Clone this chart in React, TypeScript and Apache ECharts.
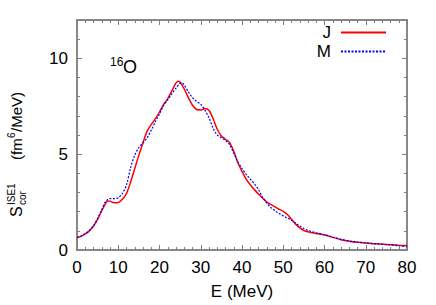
import React, { useEffect, useRef } from "react";
import * as echarts from "echarts";

const energyJ = [0, 1, 2, 3, 4, 5, 6, 7, 7.5, 8, 9, 10, 11, 12, 13, 14, 15, 16, 17, 18, 19, 20, 21, 22, 23, 24, 24.6, 25, 26, 27, 28, 29, 30, 31, 32, 33, 34, 35, 36, 37, 38, 39, 40, 41, 42, 43, 44, 45, 46, 47, 48, 49, 50, 51, 52, 53, 54, 55, 56, 58, 60, 62, 64, 66, 68, 70, 72, 75, 78, 80];
const valuesJ = [0.65, 0.72, 0.84, 1.0, 1.25, 1.6, 2.05, 2.45, 2.56, 2.55, 2.47, 2.48, 2.65, 2.95, 3.55, 4.25, 4.95, 5.6, 6.2, 6.55, 6.85, 7.2, 7.6, 7.9, 8.3, 8.72, 8.8, 8.75, 8.4, 7.95, 7.55, 7.33, 7.3, 7.38, 7.28, 6.85, 6.3, 5.95, 5.78, 5.6, 5.15, 4.55, 4.1, 3.7, 3.4, 3.15, 2.92, 2.7, 2.5, 2.38, 2.25, 2.12, 2.02, 1.85, 1.6, 1.35, 1.15, 1.02, 0.95, 0.86, 0.78, 0.66, 0.54, 0.46, 0.4, 0.36, 0.33, 0.29, 0.25, 0.23];

const energyM = [0, 1, 2, 3, 4, 5, 6, 7, 8, 9, 10, 11, 12, 13, 14, 15, 16, 17, 18, 19, 20, 21, 22, 23, 24, 25, 25.5, 26, 27, 28, 29, 30, 31, 32, 33, 34, 35, 36, 37, 38, 39, 40, 41, 42, 43, 44, 45, 46, 47, 48, 49, 50, 51, 52, 53, 54, 55, 56, 58, 60, 62, 64, 66, 68, 70, 72, 75, 78, 80];
const valuesM = [0.65, 0.72, 0.85, 1.02, 1.27, 1.65, 2.1, 2.55, 2.68, 2.68, 2.72, 2.95, 3.4, 4.3, 4.95, 5.35, 5.6, 5.85, 6.25, 6.7, 7.1, 7.55, 7.85, 8.15, 8.45, 8.7, 8.72, 8.6, 8.25, 7.95, 7.75, 7.6, 7.3, 6.9, 6.35, 6.0, 5.85, 5.72, 5.5, 5.05, 4.6, 4.25, 3.95, 3.7, 3.45, 3.15, 2.75, 2.45, 2.22, 2.05, 1.9, 1.78, 1.67, 1.55, 1.4, 1.25, 1.12, 1.02, 0.9, 0.8, 0.68, 0.56, 0.47, 0.41, 0.37, 0.33, 0.28, 0.22, 0.19];

const seriesNames = ["J", "M"];
const xName = "E (MeV)";

const FONT = "'Liberation Sans', Arial, Helvetica, sans-serif";
const FRAME = "#808080";

export default function App() {
  const ref = useRef<HTMLDivElement>(null);
  useEffect(() => {
    const chart = echarts.init(ref.current!, null, { renderer: "svg" });
    const axisCommon = (pos: string, show: boolean) => ({
      position: pos,
      axisLine: { show: true, onZero: false, lineStyle: { color: FRAME, width: 1.5 } },
      axisTick: { show: true, inside: true, length: 5, lineStyle: { color: FRAME, width: 1 } },
      minorTick: { show: true, splitNumber: 5, length: 3, lineStyle: { color: FRAME, width: 1 } },
      splitLine: { show: false },
      axisLabel: { show, color: "#000", fontSize: 17, fontFamily: FONT, margin: 9, showMaxLabel: pos === "bottom" },
    });
    const mainText = (t: string, x: number, fs: number, dy: number) => ({
      type: "text",
      x,
      y: dy,
      style: { text: t, fontSize: fs, fontFamily: FONT, fill: "#000", verticalAlign: "middle", align: "left" },
    });
    chart.setOption({
      animation: false,
      grid: { left: 77, right: 29, top: 20, bottom: 51, show: true, borderColor: FRAME, borderWidth: 1.5, backgroundColor: "transparent" },
      legend: {
        orient: "vertical",
        align: "right",
        right: 49,
        top: 24,
        padding: 0,
        itemWidth: 45,
        itemHeight: 14,
        itemGap: 2,
        itemStyle: { opacity: 0 },
        textStyle: { fontSize: 17, fontFamily: FONT, color: "#000", padding: [0, 5, 0, 0] },
        data: seriesNames,
      },
      xAxis: [
        {
          type: "value",
          min: 0,
          max: 80,
          interval: 10,
          name: xName,
          nameLocation: "middle",
          nameGap: 33,
          nameTextStyle: { fontSize: 17, fontFamily: FONT, color: "#000" },
          ...axisCommon("bottom", true),
        },
        { type: "value", min: 0, max: 80, interval: 10, ...axisCommon("top", false) },
      ],
      yAxis: [
        { type: "value", min: 0, max: 12, interval: 5, ...axisCommon("left", true) },
        { type: "value", min: 0, max: 12, interval: 5, ...axisCommon("right", false) },
      ],
      series: [
        {
          name: seriesNames[0],
          type: "line",
          data: energyJ.map((e, i) => [e, valuesJ[i]]),
          smooth: 0.3,
          symbol: "none",
          lineStyle: { color: "#ff0000", width: 1.5 },
          itemStyle: { color: "#ff0000" },
          z: 3,
        },
        {
          name: seriesNames[1],
          type: "line",
          data: energyM.map((e, i) => [e, valuesM[i]]),
          smooth: 0.3,
          symbol: "none",
          lineStyle: { color: "#0000ff", width: 1.2, type: [2, 1.5] },
          itemStyle: { color: "#0000ff" },
          z: 4,
        },
      ],
      graphic: [
        {
          type: "text",
          left: 110,
          top: 56,
          style: { text: "16", fontSize: 12, fontFamily: FONT, fill: "#000" },
        },
        {
          type: "text",
          left: 123,
          top: 58,
          style: { text: "O", fontSize: 18, fontFamily: FONT, fill: "#000" },
        },
        {
          type: "group",
          x: 22,
          y: 217,
          rotation: Math.PI / 2,
          children: [
            mainText("S", 0, 16, -5.5),
            mainText("cor", 12, 10, 0),
            mainText("ISE1", 12, 10, -11),
            mainText("(fm", 57, 15, -5.2),
            mainText("6", 79, 10, -11),
            mainText("/MeV)", 85, 15, -5.2),
          ],
        },
      ],
    });
    return () => chart.dispose();
  }, []);
  return <div ref={ref} style={{ position: "absolute", left: 0, top: 0, width: 436, height: 305 }} />;
}
